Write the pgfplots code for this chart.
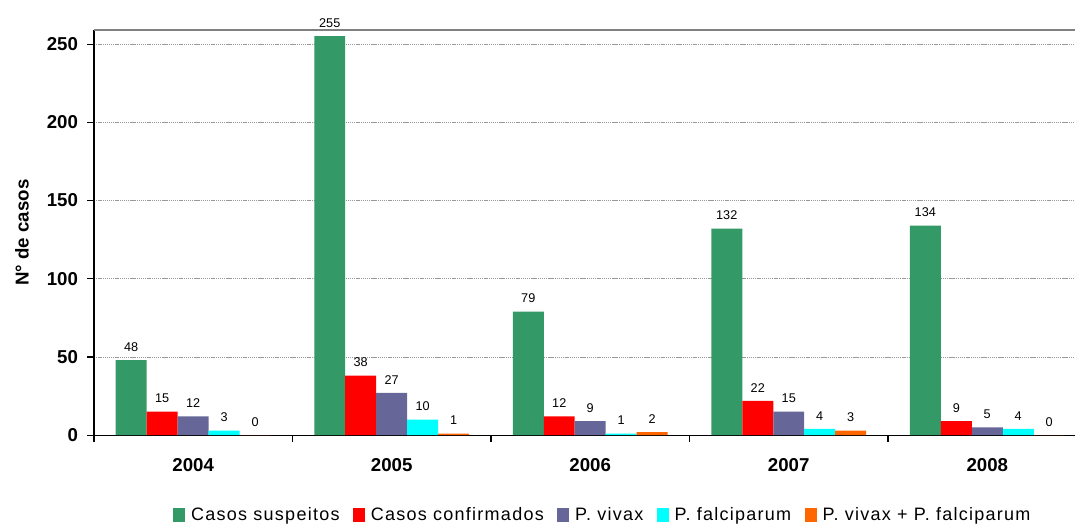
\documentclass[border=0pt]{standalone}
\usepackage{fontspec}
\setmainfont{Liberation Sans}
\newfontfamily\legfont[LetterSpace=7]{Liberation Sans}
\usepackage{pgfplots}
\usepackage{pgfplotstable}
\pgfplotsset{compat=1.18}
\usetikzlibrary{calc}
\definecolor{cgreen}{RGB}{51,153,102}
\definecolor{cred}{RGB}{255,0,0}
\definecolor{cpurple}{RGB}{102,102,153}
\definecolor{ccyan}{RGB}{0,255,255}
\definecolor{corange}{RGB}{255,102,0}
\pgfplotstableread{
x s c v f vf
0 48 15 12 3 0
1 255 38 27 10 1
2 79 12 9 1 2
3 132 22 15 4 3
4 134 9 5 4 0
}\data
\begin{document}
\begin{tikzpicture}
\begin{axis}[
  name=ax,
  at={(0,0)}, anchor=south west,
  width=736pt, height=304pt, scale only axis,
  xmin=-0.5, xmax=4.442, ymin=0, ymax=259,
  ybar, bar width=23.25pt,
  axis x line*=bottom, axis y line*=left,
  axis line style={-, black, line width=0.8pt},
  /pgf/number format/assume math mode=true,
  ticklabel style={font=\bfseries\fontsize{14}{16}\selectfont},
  yticklabel style={xshift=-3.5pt},
  ytick={0,50,100,150,200,250},
  tick align=outside,
  tick style={black, line width=0.8pt},
  major tick length=5pt,
  ymajorgrids,
  major grid style={gray!80, line width=0.5pt, dash pattern=on 1pt off 0.6pt},
  xtick={-0.5,0.5,1.5,2.5,3.5},
  xticklabels={},
  extra x ticks={0,1,2,3,4},
  extra x tick labels={2004,2005,2006,2007,2008},
  extra x tick style={major tick length=0pt, xticklabel style={yshift=-14pt}},
  ylabel={\bfseries N° de casos},
  every axis y label/.style={at={(axis description cs:-0.0734,0.5)}, rotate=90, anchor=center, font=\bfseries\fontsize{14}{16}\selectfont},
  nodes near coords,
  every node near coord/.append style={font=\fontsize{9.5}{11}\selectfont, black, yshift=3pt},
  clip=false,
  legend columns=-1,
  legend style={at={(axis description cs:0.519,-0.197)}, anchor=center, draw=none, fill=none,
    font=\legfont\fontsize{13.5}{15}\selectfont,
    /tikz/every odd column/.append style={column sep=2.5pt},
    /tikz/every even column/.append style={column sep=8pt}},
  legend image code/.code={\fill[#1] (0pt,-5pt) rectangle (9pt,5pt);},
  after end axis/.code={\draw[gray, line width=1pt] (rel axis cs:0,1) -- (rel axis cs:1,1);},
]
\addplot[fill=cgreen, draw=none, bar shift=-46.5pt] table[x=x,y=s]{\data};
\addplot[fill=cred, draw=none, bar shift=-23.25pt] table[x=x,y=c]{\data};
\addplot[fill=cpurple, draw=none, bar shift=0pt] table[x=x,y=v]{\data};
\addplot[fill=ccyan, draw=none, bar shift=23.25pt] table[x=x,y=f]{\data};
\addplot[fill=corange, draw=none, bar shift=46.5pt] table[x=x,y=vf]{\data};
\legend{Casos suspeitos, Casos confirmados, P. vivax, P. falciparum, P. vivax + P. falciparum}
\end{axis}
\pgfresetboundingbox
\path ($(ax.south west)+(-70.5pt,-66pt)$) rectangle ($(ax.north east)+(0pt,22.5pt)$);
\end{tikzpicture}
\end{document}
